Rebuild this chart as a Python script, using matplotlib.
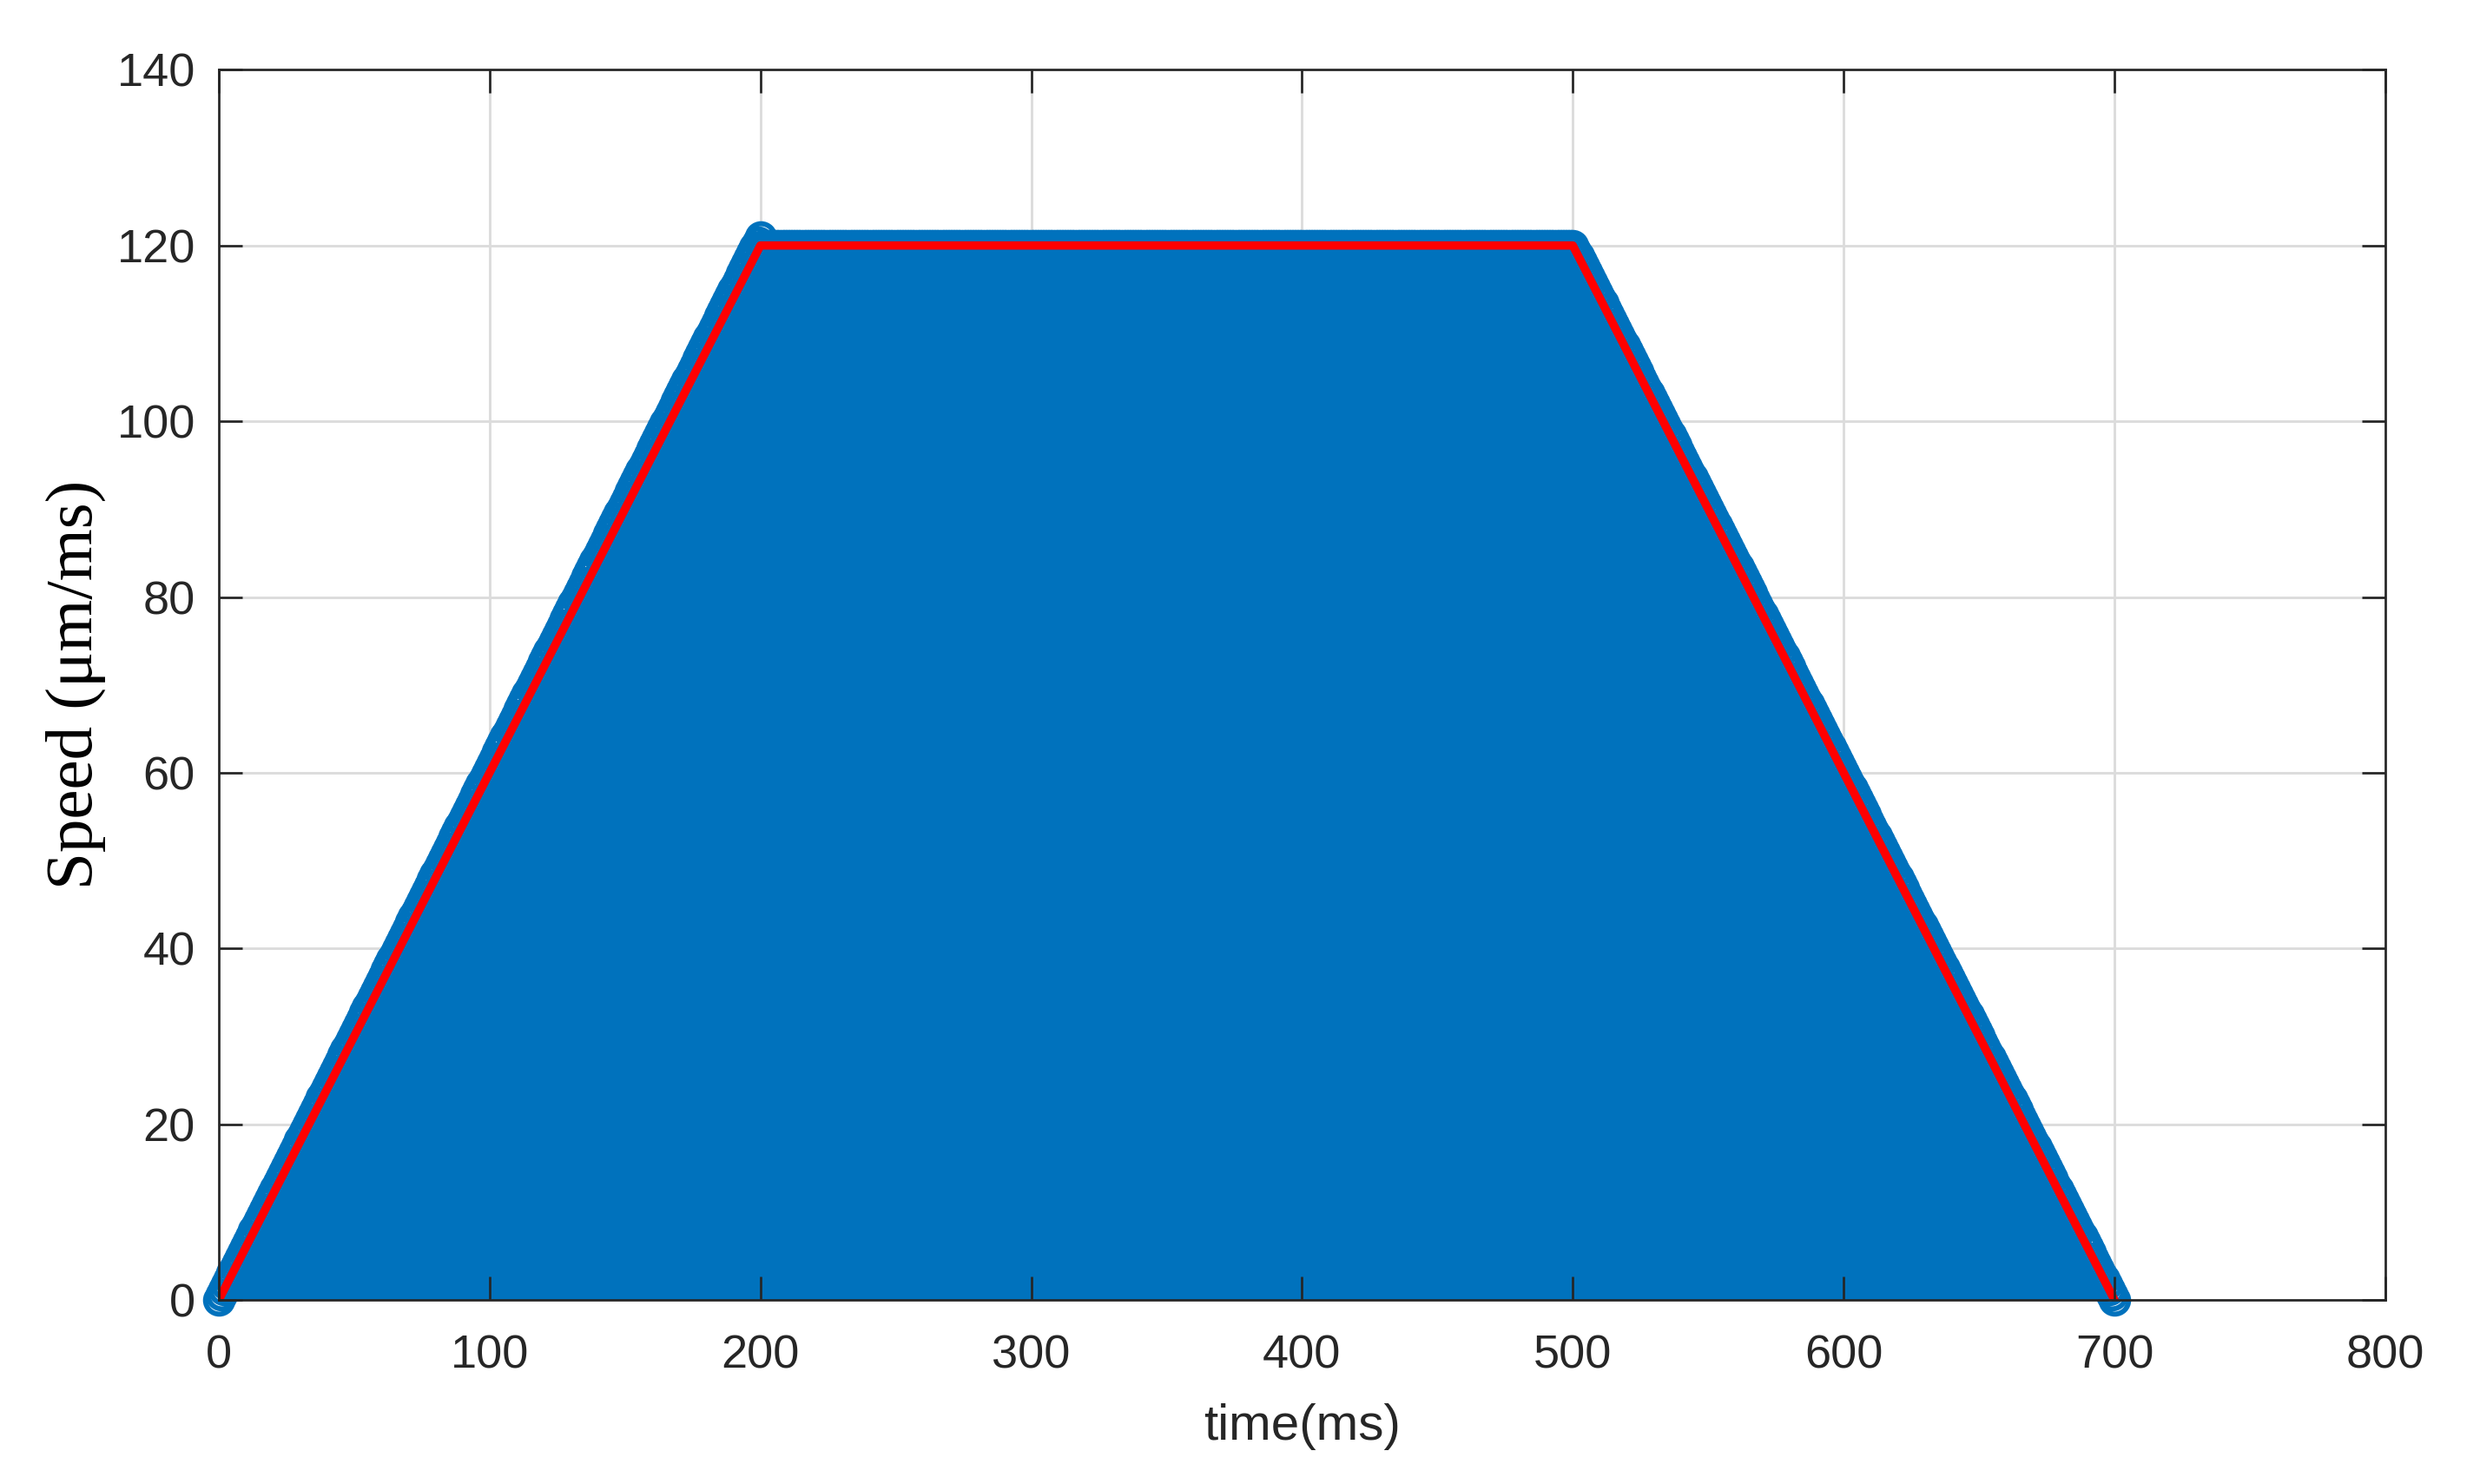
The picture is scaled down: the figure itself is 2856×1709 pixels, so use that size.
import numpy as np
import matplotlib.pyplot as plt

# planned trapezoid profile (red line): corner points
profile_time = [0, 200, 500, 700]
profile_speed = [0, 120, 120, 0]

# sampled profile drawn as stems (blue): corner points, sampled every ms
sample_corner_time = [0, 200, 201, 500, 700]
sample_corner_speed = [0, 121, 120, 120, 0]
sample_step = 1

x_ticks = [0, 100, 200, 300, 400, 500, 600, 700, 800]
y_ticks = [0, 20, 40, 60, 80, 100, 120, 140]

blue = '#0072BD'
ink = '#262626'

plt.rcParams['font.family'] = ['Liberation Sans', 'DejaVu Sans']

fig = plt.figure(figsize=(9.52, 5.6967), dpi=300)
ax = fig.add_axes([0.0882, 0.124, 0.9618 - 0.0882, 0.953 - 0.124])

sample_time = np.arange(sample_corner_time[0], sample_corner_time[-1] + 1, sample_step)
sample_speed = np.interp(sample_time, sample_corner_time, sample_corner_speed)

markers, stems, base = ax.stem(sample_time, sample_speed, basefmt=' ')
plt.setp(stems, color=blue, linewidth=1.2)
plt.setp(markers, color=blue, marker='o', markersize=7.6,
         markerfacecolor='none', markeredgewidth=1.4, clip_on=False)

ax.plot(profile_time, profile_speed, color='red', linewidth=2.3, zorder=2.2)

# grid behind the data, ticks and frame on top
ax.vlines(x_ticks, 0, 140, color='#dcdcdc', linewidth=0.7, zorder=0.5)
ax.hlines(y_ticks, 0, 800, color='#dcdcdc', linewidth=0.7, zorder=0.5)
ax.set_axisbelow(False)

ax.set_xlim(0, 800)
ax.set_ylim(0, 140)
ax.set_xticks(x_ticks)
ax.set_yticks(y_ticks)
ax.tick_params(direction='in', top=True, right=True, length=6.5, width=0.65,
               colors=ink, labelsize=13)
ax.tick_params(axis='x', pad=9.5)
ax.tick_params(axis='y', pad=6.5)
for s in ax.spines.values():
    s.set_color(ink)
    s.set_linewidth(0.65)

ax.set_xlabel('time(ms)', fontsize=14, color=ink, labelpad=7)
ax.set_ylabel('Speed (μm/ms)', fontsize=18.5, family=['Liberation Serif', 'DejaVu Serif'],
              color='black', labelpad=3)

fig.savefig('out.png', dpi=300)
